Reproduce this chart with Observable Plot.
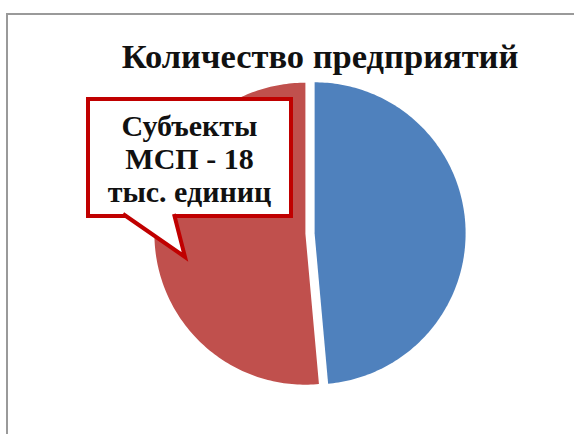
<!DOCTYPE html>
<html>
<head>
<meta charset="utf-8">
<script src="https://cdn.jsdelivr.net/npm/d3@7"></script>
<script src="https://cdn.jsdelivr.net/npm/@observablehq/plot@0.6"></script>
<style>
  html, body { margin: 0; padding: 0; background: #fff; }
  #wrap { position: relative; width: 574px; height: 434px; overflow: hidden; }
  #border { position: absolute; left: 6px; top: 13px; width: 600px; height: 500px;
    border-left: 2px solid #9a9a9a; border-top: 2px solid #9a9a9a; box-sizing: border-box; }
  #chart { position: absolute; left: 0; top: 0; }
  #callout { position: absolute; left: 86px; top: 97px; width: 207px; height: 121px;
    box-sizing: border-box; border: 4px solid #c00000; background: #fff;
    font-family: "Liberation Serif", "Times New Roman", serif; font-weight: bold;
    font-size: 30px; line-height: 33px; color: #111; text-align: center; padding-top: 8px;
    white-space: nowrap; }
  #tail { position: absolute; left: 0; top: 0; }
</style>
</head>
<body>
<div id="wrap">
  <div id="border"></div>
  <div id="chart"></div>
  <svg id="tail" width="574" height="434">
    <path d="M123,214 L185,257 L174,214" fill="#fff" stroke="#c00000" stroke-width="4" stroke-linejoin="miter"/>
  </svg>
</div>
<script>
const title = "Количество предприятий";
const categories = ["Прочие", "Субъекты МСП"];
const values = [17, 18];
const colors = ["#4F81BD", "#C0504D"];
const calloutLines = ["Субъекты", "МСП - 18", "тыс. единиц"];

const cx = 309.5, cy = 233, R = 151, explode = 4.6 / 151;

const arcs = d3.pie().sort(null)(values);
const pts = [];
arcs.forEach((a, i) => {
  const mid = (a.startAngle + a.endAngle) / 2;
  const ox = explode * Math.sin(mid), oy = explode * Math.cos(mid);
  pts.push({cat: categories[i], x: ox, y: oy});
  const n = 180;
  for (let k = 0; k <= n; ++k) {
    const t = a.startAngle + (a.endAngle - a.startAngle) * k / n;
    pts.push({cat: categories[i], x: ox + Math.sin(t), y: oy + Math.cos(t)});
  }
});

const plot = Plot.plot({
  width: 574,
  height: 434,
  margin: 0,
  x: {domain: [-1, 1], range: [cx - R, cx + R], axis: null},
  y: {domain: [-1, 1], range: [cy + R, cy - R], axis: null},
  color: {domain: categories, range: colors},
  style: {background: "transparent"},
  marks: [
    Plot.line(pts, {x: "x", y: "y", z: "cat", fill: "cat", stroke: null, curve: "linear-closed"}),
    Plot.text([title], {frameAnchor: "top", dx: 32.5, dy: 67, lineAnchor: "bottom",
      fontFamily: "Liberation Serif, Times New Roman, serif", fontWeight: "bold",
      fontSize: 34.5, fill: "#111"})
  ]
});
document.getElementById("chart").appendChild(plot);

const box = document.createElement("div");
box.id = "callout";
box.innerHTML = calloutLines.join("<br>");
document.getElementById("wrap").insertBefore(box, document.getElementById("tail"));
</script>
</body>
</html>
